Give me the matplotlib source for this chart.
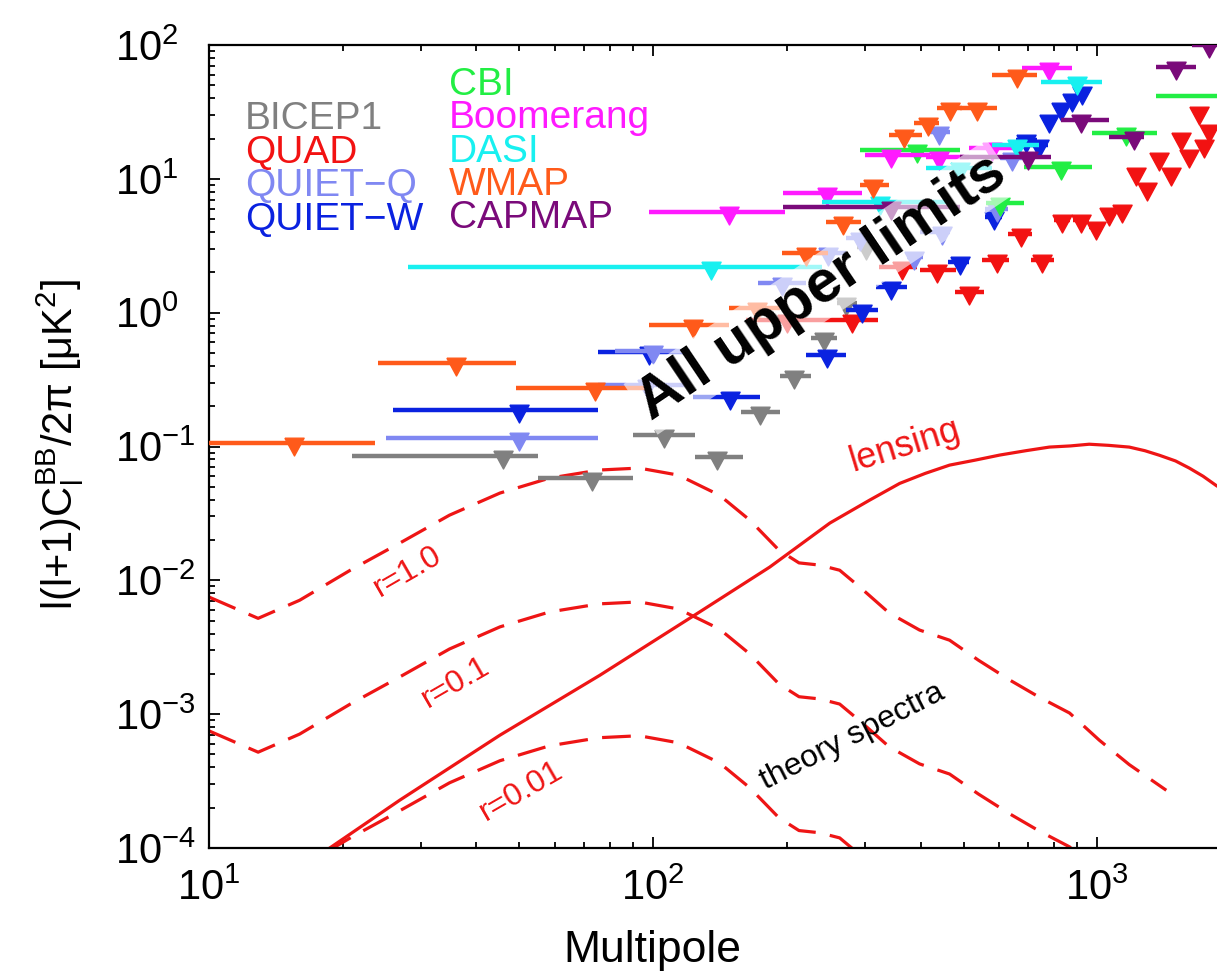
import numpy as np
import matplotlib
matplotlib.use('Agg')
import matplotlib.pyplot as plt

plt.rcParams['font.family'] = ['Liberation Sans', 'DejaVu Sans']
plt.rcParams['mathtext.fontset'] = 'custom'
plt.rcParams['mathtext.rm'] = 'Liberation Sans'
plt.rcParams['mathtext.it'] = 'Liberation Sans:italic'
plt.rcParams['mathtext.default'] = 'regular'

# -------------------------------
# Upper limits: marker ell, bin low, bin high, limit [uK^2]
bicep_l = [46, 73, 106, 139, 174, 208, 243, 272, 302]
bicep_lo = [21, 55, 90, 124, 158, 193, 227, 260, 288]
bicep_hi = [55, 90, 124, 159, 193, 227, 260, 288, 318]
bicep_y = [0.085, 0.058, 0.122, 0.083, 0.181, 0.335, 0.645, 1.18, 3.1]

quad_l = [200, 281, 364, 436, 515, 593, 674, 752, 834, 920, 995, 1064, 1138,
          1224, 1295, 1378, 1466, 1545, 1611, 1695, 1741, 1787]
quad_lo = [162, 250, 323, 398, 477, 551, 628, 710, 800, 880, 960, 1030, 1100,
           1190, 1260, 1340, 1430, 1505, 1575, 1655, 1705, 1750]
quad_hi = [250, 320, 392, 481, 557, 634, 714, 800, 870, 960, 1030, 1100, 1180,
           1260, 1330, 1420, 1505, 1585, 1650, 1740, 1780, 1830]
quad_y = [0.88, 0.88, 2.19, 2.08, 1.43, 2.47, 3.9, 2.47, 4.9, 4.9, 4.36, 5.55,
          5.85, 11.0, 8.5, 14.3, 11.0, 20.2, 15.1, 31.6, 17.9, 23.2]

quietw_l = [50, 98, 149, 246, 295, 344, 490, 586, 692, 741, 780, 830, 879, 925]
quietw_lo = [26, 75, 123, 221, 272, 318, 460, 560, 657, 710, 755, 805, 855, 900]
quietw_hi = [75, 121, 174, 272, 320, 372, 515, 610, 730, 775, 805, 855, 905, 950]
quietw_y = [0.187, 0.508, 0.234, 0.482, 1.045, 1.55, 2.39, 5.2, 19.5, 17.9,
            27.5, 33.8, 39.5, 44.5]

quietq_l = [50, 97, 100, 195, 247, 292, 387, 446, 441, 593, 641]
quietq_lo = [25, 75, 82, 172, 233, 272, 372, 398, 415, 560, 603]
quietq_hi = [75, 121, 121, 221, 272, 310, 405, 465, 465, 628, 678]
quietq_y = [0.116, 0.29, 0.516, 1.66, 2.79, 3.6, 2.6, 4.0, 22.4, 6.0, 14.3]

cbi_l = [392, 603, 830, 1161, 2150]
cbi_lo = [292, 562, 685, 975, 1358]
cbi_hi = [490, 685, 975, 1365, 2600]
cbi_y = [16.4, 6.6, 12.2, 22.0, 41.6]

boom_l = [148, 246, 344, 441, 580, 780]
boom_lo = [98, 196, 300, 412, 515, 678]
boom_hi = [198, 296, 420, 515, 658, 879]
boom_y = [5.65, 7.8, 15.1, 14.6, 17.0, 67.3]

dasi_l = [135, 324, 490, 658, 902]
dasi_lo = [28, 240, 412, 580, 748]
dasi_hi = [240, 472, 580, 740, 1025]
dasi_y = [2.19, 6.7, 12.0, 17.9, 52.9]

wmap_l = [15.5, 36, 74, 123, 171, 221, 268, 312, 368, 415, 465, 537, 658]
wmap_lo = [8, 24, 49, 98, 148, 195, 245, 292, 340, 387, 436, 490, 580]
wmap_hi = [23.6, 49, 98, 148, 193, 247, 294, 340, 402, 441, 495, 593, 733]
wmap_y = [0.106, 0.42, 0.273, 0.81, 1.08, 2.79, 4.75, 9.0, 21.2, 26.1, 33.8,
          33.8, 59.7]

capmap_l = [344, 700, 920, 1211, 1505, 1787]
capmap_lo = [196, 490, 830, 1064, 1358, 1636]
capmap_hi = [490, 788, 1064, 1276, 1671, 2100]
capmap_y = [6.2, 14.6, 27.5, 20.5, 68.5, 100.0]

# -------------------------------
# Theory spectra
lens_l = [15, 18.7, 26.9, 45.2, 75.8, 127, 183, 250, 307, 359, 410, 465, 530,
          603, 690, 780, 870, 959, 1060, 1180, 1280, 1380, 1500, 1611, 1730,
          1854, 2000]
lens_y = [6.4e-5, 1.0e-4, 2.28e-4, 6.97e-4, 1.95e-3, 5.78e-3, 1.256e-2,
          2.68e-2, 3.97e-2, 5.3e-2, 6.3e-2, 7.26e-2, 7.9e-2, 8.63e-2, 9.3e-2,
          9.9e-2, 1.01e-1, 1.04e-1, 1.02e-1, 9.9e-2, 9.3e-2, 8.6e-2, 7.8e-2,
          6.9e-2, 6.0e-2, 5.1e-2, 4.4e-2]

tens_l = [10, 12.9, 16, 20.8, 26.9, 34.8, 45.2, 58.4, 75.6, 93, 114, 141, 165,
          192, 213, 237, 263, 292, 340, 398, 465, 540, 635, 740, 866, 1010,
          1180, 1430]
r1_y = [7.5e-3, 5.2e-3, 7.1e-3, 1.19e-2, 1.9e-2, 3.07e-2, 4.49e-2, 5.8e-2,
        6.67e-2, 6.9e-2, 6.11e-2, 4.33e-2, 2.82e-2, 1.68e-2, 1.35e-2, 1.3e-2,
        1.19e-2, 8.9e-3, 5.7e-3, 4.25e-3, 3.57e-3, 2.53e-3, 1.8e-3, 1.34e-3,
        1.02e-3, 6.4e-4, 4.2e-4, 2.7e-4]
r01_y = [7.5e-4, 5.2e-4, 7.1e-4, 1.19e-3, 1.9e-3, 3.07e-3, 4.49e-3, 5.8e-3,
         6.67e-3, 6.9e-3, 6.11e-3, 4.33e-3, 2.82e-3, 1.68e-3, 1.35e-3, 1.3e-3,
         1.19e-3, 8.9e-4, 5.7e-4, 4.25e-4, 3.57e-4, 2.53e-4, 1.8e-4, 1.34e-4,
         1.02e-4, 6.4e-5, 4.2e-5, 2.7e-5]
r001_y = [7.5e-5, 5.2e-5, 7.1e-5, 1.19e-4, 1.9e-4, 3.07e-4, 4.49e-4, 5.8e-4,
          6.67e-4, 6.9e-4, 6.11e-4, 4.33e-4, 2.82e-4, 1.68e-4, 1.35e-4, 1.3e-4,
          1.19e-4, 8.9e-5, 5.7e-5, 4.25e-5, 3.57e-5, 2.53e-5, 1.8e-5, 1.34e-5,
          1.02e-5, 6.4e-6, 4.2e-6, 2.7e-6]

W, H = 1217, 975


def px(x, y):
    # figure pixel (from top-left) -> figure fraction
    return x / W, 1 - y / H


fig = plt.figure(figsize=(W / 100, H / 100), dpi=100)
ax = fig.add_axes([209 / W, (H - 848) / H, (1231 - 209) / W, (848 - 45) / H])
ax.set_xscale('log')
ax.set_yscale('log')
ax.set_xlim(10, 2000)
ax.set_ylim(1e-4, 1e2)

tri = [(-1, 0.55), (1, 0.55), (0, -1.3), (-1, 0.55)]

experiments = [
    ('BICEP1', '#808080', bicep_l, bicep_lo, bicep_hi, bicep_y),
    ('QUAD', '#f21212', quad_l, quad_lo, quad_hi, quad_y),
    ('QUIET-W', '#0a22e0', quietw_l, quietw_lo, quietw_hi, quietw_y),
    ('QUIET-Q', '#8088f2', quietq_l, quietq_lo, quietq_hi, quietq_y),
    ('CBI', '#22ee44', cbi_l, cbi_lo, cbi_hi, cbi_y),
    ('Boomerang', '#ff1aff', boom_l, boom_lo, boom_hi, boom_y),
    ('DASI', '#18f0f0', dasi_l, dasi_lo, dasi_hi, dasi_y),
    ('WMAP', '#ff5a1a', wmap_l, wmap_lo, wmap_hi, wmap_y),
    ('CAPMAP', '#7a0a7a', capmap_l, capmap_lo, capmap_hi, capmap_y),
]
for name, col, l, lo, hi, y in experiments:
    ax.hlines(y, lo, hi, colors=col, lw=3.2, zorder=3)
    ax.plot(l, y, ls='none', marker=tri, ms=18, color=col, mec=col, zorder=3)

red = '#ee1515'
ax.plot(lens_l, lens_y, color=red, lw=2.3, zorder=2)
for ty in (r1_y, r01_y, r001_y):
    ax.plot(tens_l, ty, color=red, lw=2.3, ls=(0, (9, 4.5)), zorder=2)

# axes styling
for s in ax.spines.values():
    s.set_linewidth(1.6)
ax.tick_params(which='both', direction='in', top=True, right=True,
               labelsize=30, width=1.3)
ax.tick_params(which='major', length=8)
ax.tick_params(which='minor', length=4.5)
ax.tick_params(axis='x', pad=15)
ax.tick_params(axis='y', pad=68)
ax.set_yticks([1e-4, 1e-3, 1e-2, 1e-1, 1, 10, 100])
ax.set_xticks([10, 100, 1000])
for lab in ax.get_yticklabels():
    lab.set_horizontalalignment('left')

fig.text(*px(652, 962), 'Multipole', fontsize=32, ha='center', va='baseline')
fig.text(*px(60, 445), r'l(l+1)C$_l^{BB}$/2$\pi$ [$\mu$K$^2$]', fontsize=30,
         ha='center', va='center', rotation=90)

# legend as coloured labels
left_col = [('BICEP1', '#808080'), ('QUAD', '#f21212'),
            ('QUIET\u2212Q', '#8088f2'), ('QUIET\u2212W', '#0a22e0')]
right_col = [('CBI', '#22ee44'), ('Boomerang', '#ff1aff'), ('DASI', '#18f0f0'),
             ('WMAP', '#ff5a1a'), ('CAPMAP', '#7a0a7a')]
for i, (t, c) in enumerate(left_col):
    fig.text(*px(245, 129 + 33.7 * i), t, color=c, fontsize=28, va='baseline')
for i, (t, c) in enumerate(right_col):
    fig.text(*px(449, 95 + 33.3 * i), t, color=c, fontsize=28, va='baseline')

# annotations
fig.text(*px(822, 287), 'All upper limits', fontsize=43, fontweight='bold',
         rotation=34, ha='center', va='center', rotation_mode='anchor',
         zorder=5, bbox=dict(facecolor='white', alpha=0.6, edgecolor='none',
                             pad=2))
fig.text(*px(905, 446), 'lensing', color=red, fontsize=26, rotation=17,
         ha='center', va='center', rotation_mode='anchor')
fig.text(*px(852, 737), 'theory spectra', fontsize=23, rotation=27,
         ha='center', va='center', rotation_mode='anchor')
fig.text(*px(408, 572), 'r=1.0', color=red, fontsize=23, rotation=30,
         ha='center', va='center', rotation_mode='anchor')
fig.text(*px(456, 683), 'r=0.1', color=red, fontsize=23, rotation=30,
         ha='center', va='center', rotation_mode='anchor')
fig.text(*px(521, 791), 'r=0.01', color=red, fontsize=23, rotation=30,
         ha='center', va='center', rotation_mode='anchor')

fig.savefig('out.png', dpi=100)
